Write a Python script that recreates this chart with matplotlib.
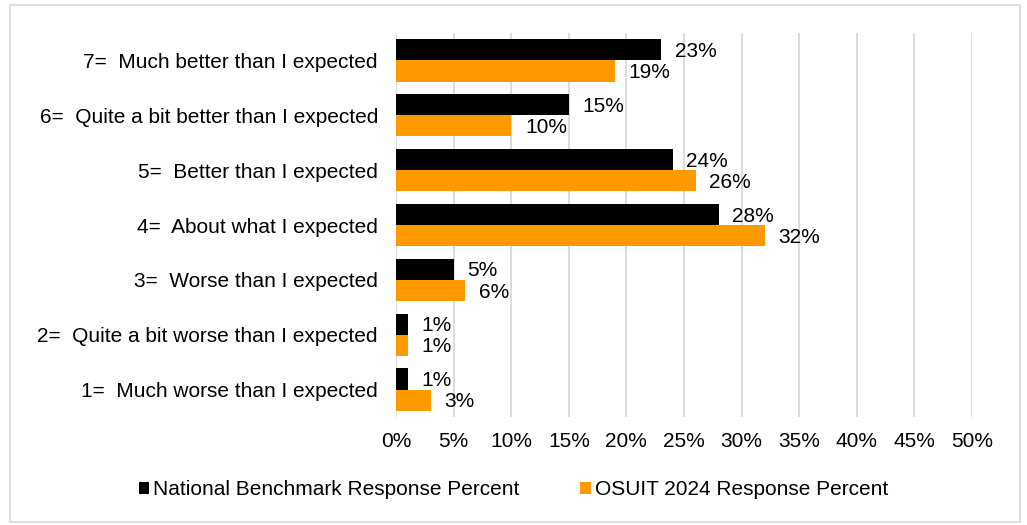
import matplotlib
import numpy as np
from matplotlib import pyplot as plt
from matplotlib.patches import Rectangle
from matplotlib.ticker import PercentFormatter

matplotlib.rcParams['font.family'] = ['Liberation Sans', 'DejaVu Sans']

# categories from bottom to top
cats = ['1=  Much worse than I expected',
        '2=  Quite a bit worse than I expected',
        '3=  Worse than I expected',
        '4=  About what I expected',
        '5=  Better than I expected',
        '6=  Quite a bit better than I expected',
        '7=  Much better than I expected']
national = [1, 1, 5, 28, 24, 15, 23]
osuit = [3, 1, 6, 32, 26, 10, 19]
series_names = ['National Benchmark Response Percent', 'OSUIT 2024 Response Percent']
colors = ['#000000', '#FF9900']

fs = 15

fig = plt.figure(figsize=(10.27, 5.25), dpi=100)
ax = fig.add_axes([0.3856, 0.2057, 0.5609, 0.7313])

y = np.arange(len(cats))
h = 0.385
b1 = ax.barh(y + h / 2, national, height=h, color=colors[0], label=series_names[0])
b2 = ax.barh(y - h / 2, osuit, height=h, color=colors[1], label=series_names[1])

# value labels just right of each bar
for bars, vals in ((b1, national), (b2, osuit)):
    for bar, v in zip(bars, vals):
        ax.text(v + 1.2, bar.get_y() + bar.get_height() / 2 - 0.03, '%d%%' % v,
                va='center', ha='left', fontsize=fs)

ax.set_xlim(0, 50)
ax.set_ylim(-0.5, len(cats) - 0.5)
ax.set_xticks(np.arange(0, 51, 5))
ax.xaxis.set_major_formatter(PercentFormatter(decimals=0))
ax.set_yticks(y)
ax.set_yticklabels(cats)
ax.tick_params(axis='both', length=0, labelsize=fs)
ax.tick_params(axis='x', pad=11)
ax.tick_params(axis='y', pad=13)
ax.grid(axis='x', color='#d9d9d9', linewidth=1.3)
ax.set_axisbelow(True)
for s in ax.spines.values():
    s.set_visible(False)

fig.legend(handles=[b1, b2], loc='center', bbox_to_anchor=(0.5, 0.067), ncol=2,
           frameon=False, fontsize=fs, handlelength=0.5, handleheight=0.5,
           handletextpad=0.2, columnspacing=2.9)

fig.patches.append(Rectangle((0.01, 0.006), 0.983, 0.985, transform=fig.transFigure,
                             fill=False, edgecolor='#d9d9d9', linewidth=1.2))

fig.savefig('out.png', dpi=100)
